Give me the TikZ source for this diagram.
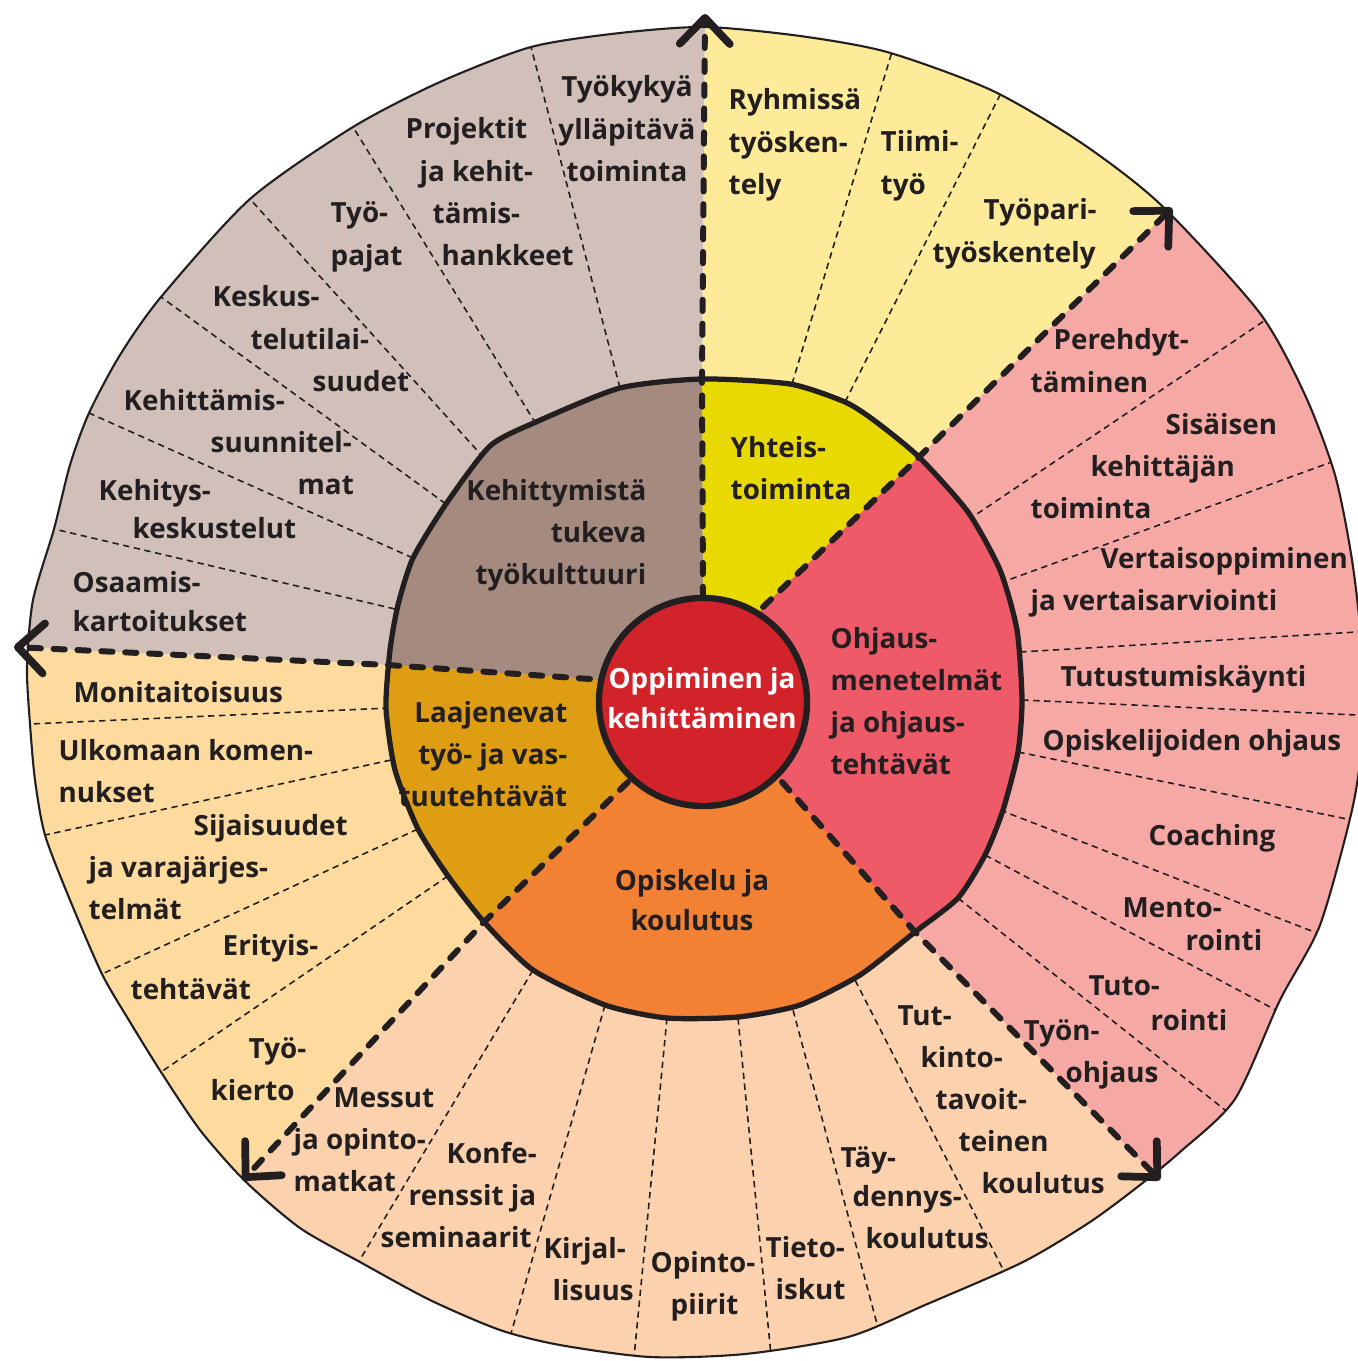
\documentclass[tikz,border=0pt]{standalone}
\usepackage{fontspec}
\setmainfont{Open Sans}
\newfontfamily\kaaviofont{Open Sans}
\usetikzlibrary{arrows.meta}

\definecolor{inkline}{HTML}{231F20}
\definecolor{browno}{HTML}{D0C0B9}
\definecolor{browni}{HTML}{A58B7F}
\definecolor{yellowo}{HTML}{FEEB9A}
\definecolor{yellowi}{HTML}{E8D900}
\definecolor{pinko}{HTML}{F6A9A4}
\definecolor{pinki}{HTML}{EF5A69}
\definecolor{peacho}{HTML}{FBD1AE}
\definecolor{orangei}{HTML}{F28133}
\definecolor{goldo}{HTML}{FDDB9F}
\definecolor{goldi}{HTML}{DF9D14}
\definecolor{centrered}{HTML}{D2232A}

\newlength\pxu
\setlength\pxu{0.01cm}
\newcommand\sh[1]{\hspace*{#1\pxu}}
\newcommand\rowsl[1]{\begin{tabular}[t]{@{}l@{}}#1\end{tabular}}
\newcommand\rowsr[1]{\begin{tabular}[t]{@{}r@{}}#1\end{tabular}}
\newcommand\rowsc[1]{\begin{tabular}[t]{@{}c@{}}#1\end{tabular}}

\tikzset{
  outerrim/.style={insert path={plot[smooth cycle, tension=0.45] coordinates {
    (705,27) (800,36) (887,52) (991,90) (1080,142) (1160,204) (1259,312) (1305,395)
    (1335,475) (1352,560) (1362,650) (1362,740) (1352,810) (1320,925) (1280,1000)
    (1235,1099) (1180,1152) (1140,1185) (1090,1222) (1023,1262) (925,1305) (848,1337)
    (745,1354) (650,1357) (560,1345) (500,1330) (430,1300) (360,1262) (300,1228)
    (245,1181) (200,1130) (161,1072) (130,1022) (102,974) (70,900) (45,835) (35,780)
    (30,724) (27,667) (33,600) (54,529) (70,465) (89,413) (120,355) (161,297)
    (250,199) (353,127) (440,82) (531,47) (620,33)}}},
  middlering/.style={insert path={plot[smooth cycle, tension=0.4] coordinates {
    (702,379) (790,384) (845,402) (875,421) (919,457) (968,512) (1000,570) (1017,630)
    (1022,700) (1018,752) (1003,810) (985,855) (958,898) (915,932) (860,975) (800,1005)
    (738,1017) (667,1018) (605,1005) (533,970) (484,922) (448,876) (418,829) (395,770)
    (386,708) (390,650) (398,605) (413,558) (446,504) (490,446) (536,422) (620,388)}}},
  brownwedge/.style={insert path={(C) -- (u0) -- (u1) -- (u2) -- (u3) -- (-300,-300) -- (w3) -- (w2) -- (w1) -- (w0) -- cycle}},
  yellowwedge/.style={insert path={(C) -- (u0) -- (u1) -- (u2) -- (u3) -- (1600,-300) -- (r3) -- (r2) -- (r1) -- (r0) -- cycle}},
  pinkwedge/.style={insert path={(C) -- (r0) -- (r1) -- (r2) -- (r3) -- (1700,-100) -- (1700,1500) -- (d3) -- (d2) -- (d1) -- (d0) -- cycle}},
  orangewedge/.style={insert path={(C) -- (d0) -- (d1) -- (d2) -- (d3) -- (1420,1700) -- (-30,1700) -- (l3) -- (l2) -- (l1) -- (l0) -- cycle}},
  goldwedge/.style={insert path={(C) -- (l0) -- (l1) -- (l2) -- (l3) -- (-300,1500) -- (w3) -- (w2) -- (w1) -- (w0) -- cycle}},
}

\begin{document}
\begin{tikzpicture}[x=0.01cm, y=-0.01cm, line join=round,
  rim/.style={line width=0.6pt, draw=inkline},
  ring/.style={line width=1.5pt, draw=inkline},
  divider/.style={line width=1.7pt, draw=inkline, line cap=round, dash pattern=on 3.2pt off 3.6pt,
    -{Straight Barb[length=2.6mm, width=5mm, line width=2.2pt, round]}},
  spoke/.style={line width=0.45pt, draw=inkline, dash pattern=on 1.8pt off 1.3pt,
    shorten <=-3pt, shorten >=-12pt},
  lbl/.style={inner sep=0pt, text=inkline, font=\kaaviofont\bfseries\fontsize{7.9}{12}\selectfont}]
\useasboundingbox (0,0) rectangle (1357,1361);

\coordinate (C) at (703,702);
\coordinate (u0) at (703,598);  \coordinate (u1) at (702,379);  \coordinate (u2) at (705,14);   \coordinate (u3) at (706,-300);
\coordinate (r0) at (763,607);  \coordinate (r1) at (919,457);  \coordinate (r2) at (1172,208); \coordinate (r3) at (1480,-95);
\coordinate (d0) at (782,782);  \coordinate (d1) at (915,932);  \coordinate (d2) at (1160,1180); \coordinate (d3) at (1420,1475);
\coordinate (l0) at (628,782);  \coordinate (l1) at (484,922);  \coordinate (l2) at (243,1180); \coordinate (l3) at (-30,1475);
\coordinate (w0) at (590,679);  \coordinate (w1) at (388,665);  \coordinate (w2) at (14,647);   \coordinate (w3) at (-300,632);

% outer ring
\begin{scope}
  \clip[outerrim];
  \foreach \w/\c in {brownwedge/browno, yellowwedge/yellowo, pinkwedge/pinko, orangewedge/peacho, goldwedge/goldo}
    \fill[fill=\c, \w];
  \foreach \ax/\ay/\bx/\by in {
      620/388/531/47, 536/424/353/127, 484/458/250/199, 446/504/161/297, 413/558/89/413, 395/609/54/529,
      792/384/891/55, 845/402/998/99,
      968/520/1258/325, 1000/583/1318/467, 1020/652/1357/632, 1022/700/1357/715,
      1018/752/1352/820, 1000/810/1322/935, 985/855/1285/1015, 958/898/1225/1110,
      533/970/358/1263, 605/1005/512/1330, 667/1018/635/1347, 738/1018/770/1345,
      793/1010/880/1335, 855/980/1010/1283,
      389/708/30/724, 391/760/45/835, 418/829/102/974, 448/876/161/1072}
    \draw[spoke] (\ax,\ay) -- (\bx,\by);
\end{scope}

% middle ring
\begin{scope}
  \clip[middlering];
  \foreach \w/\c in {brownwedge/browni, yellowwedge/yellowi, pinkwedge/pinki, orangewedge/orangei, goldwedge/goldi}
    \fill[fill=\c, \w];
\end{scope}

\draw[rim, outerrim];
\draw[ring, middlering];

\draw[divider] (u0) -- (u1) -- (u2);
\draw[divider] (r0) -- (r1) -- (r2);
\draw[divider] (d0) -- (d1) -- (d2);
\draw[divider] (l0) -- (l1) -- (l2);
\draw[divider] (w0) -- (w1) -- (w2);

\fill[centrered, draw=inkline, line width=1.8pt] (C) circle (1.04cm);

% brown
\node[lbl, anchor=base] (tyokyky) at (627,97) {\rowsc{Työkykyä\\ylläpitävä\\toiminta}};
\node[lbl, anchor=base west] (projektit) at (405,139) {\rowsl{Projektit\\\sh{14}ja kehit-\\\sh{27}tämis-\\\sh{36}hankkeet}};
\node[lbl, anchor=base west] (tyopajat) at (330,223) {\rowsl{Työ-\\pajat}};
\node[lbl, anchor=base west] (keskustelu) at (212,307) {\rowsl{Keskus-\\\sh{38}telutilai-\\\sh{100}suudet}};
\node[lbl, anchor=base west] (suunnitelmat) at (123,410) {\rowsl{Kehittämis-\\\sh{87}suunnitel-\\\sh{174}mat}};
\node[lbl, anchor=base west] (kehitys) at (98,500) {\rowsl{Kehitys-\\[-4\pxu]\sh{34}keskustelut}};
\node[lbl, anchor=base west] (osaamis) at (72,592) {\rowsl{Osaamis-\\[-3\pxu]kartoitukset}};
\node[lbl, anchor=base east] (tyokulttuuri) at (647,500) {\rowsr{Kehittymistä\\tukeva\\työkulttuuri}};

% yellow
\node[lbl, anchor=base west] (ryhmissa) at (728,110) {\rowsl{Ryhmissä\\työsken-\\tely}};
\node[lbl, anchor=base west] (tiimityo) at (880,152) {\rowsl{Tiimi-\\työ}};
\node[lbl, anchor=base west] (tyopari) at (932,220) {\rowsl{\sh{51}Työpari-\\työskentely}};
\node[lbl, anchor=base west] (yhteistoiminta) at (730,457) {\rowsl{Yhteis-\\toiminta}};

% pink
\node[lbl, anchor=base west] (perehdytys) at (1030,350) {\rowsl{\sh{23}Perehdyt-\\täminen}};
\node[lbl, anchor=base west] (sisainen) at (1030,434) {\rowsl{\sh{135}Sisäisen\\\sh{60}kehittäjän\\toiminta}};
\node[lbl, anchor=base west] (vertais) at (1030,568) {\rowsl{\sh{70}Vertaisoppiminen\\ja vertaisarviointi}};
\node[lbl, anchor=base west] (tutustuminen) at (1060,686) {Tutustumiskäynti};
\node[lbl, anchor=base west] (opiskelijat) at (1042,750) {Opiskelijoiden ohjaus};
\node[lbl, anchor=base west] (coaching) at (1148,845) {Coaching};
\node[lbl, anchor=base west] (mentorointi) at (1122,917) {\rowsl{Mento-\\[-9\pxu]\sh{63}rointi}};
\node[lbl, anchor=base west] (tutorointi) at (1088,995) {\rowsl{Tuto-\\[-7\pxu]\sh{62}rointi}};
\node[lbl, anchor=base west] (tyonohjaus) at (1023,1040) {\rowsl{Työn-\\\sh{42}ohjaus}};
\node[lbl, anchor=base west] (ohjaus) at (830,648) {\rowsl{Ohjaus-\\menetelmät\\ja ohjaus-\\tehtävät}};

% orange
\node[lbl, anchor=base west] (tutkinto) at (897,1025) {\rowsl{Tut-\\\sh{23}kinto-\\\sh{38}tavoit-\\\sh{61}teinen\\\sh{84}koulutus}};
\node[lbl, anchor=base west] (taydennys) at (840,1167) {\rowsl{Täy-\\[-3\pxu]\sh{12}dennys-\\\sh{25}koulutus}};
\node[lbl, anchor=base west] (tietoiskut) at (765,1257) {\rowsl{Tieto-\\\sh{10}iskut}};
\node[lbl, anchor=base west] (opintopiirit) at (650,1272) {\rowsl{Opinto-\\\sh{20}piirit}};
\node[lbl, anchor=base west] (kirjallisuus) at (543,1258) {\rowsl{Kirjal-\\\sh{9}lisuus}};
\node[lbl, anchor=base west] (konferenssit) at (380,1163) {\rowsl{\sh{66}Konfe-\\\sh{28}renssit ja\\seminaarit}};
\node[lbl, anchor=base west] (messut) at (293,1107) {\rowsl{\sh{40}Messut\\ja opinto-\\matkat}};
\node[lbl, anchor=base] (opiskelu) at (692,890) {\rowsc{Opiskelu ja\\[-2\pxu]koulutus}};

% gold
\node[lbl, anchor=base west] (monitaitoisuus) at (73,702) {Monitaitoisuus};
\node[lbl, anchor=base west] (ulkomaan) at (58,760) {\rowsl{Ulkomaan komen-\\nukset}};
\node[lbl, anchor=base west] (sijaisuudet) at (88,835) {\rowsl{\sh{105}Sijaisuudet\\ja varajärjes-\\telmät}};
\node[lbl, anchor=base west] (erityis) at (130,955) {\rowsl{\sh{92}Erityis-\\[2\pxu]tehtävät}};
\node[lbl, anchor=base west] (tyokierto) at (210,1058) {\rowsl{\sh{38}Työ-\\kierto}};
\node[lbl, anchor=base east] (laajenevat) at (568,722) {\rowsr{Laajenevat\\työ- ja vas-\\tuutehtävät}};

% centre
\node[lbl, text=white, anchor=base] (oppiminen) at (702,688) {\rowsc{Oppiminen ja\\[-2\pxu]kehittäminen}};
\end{tikzpicture}
\end{document}
